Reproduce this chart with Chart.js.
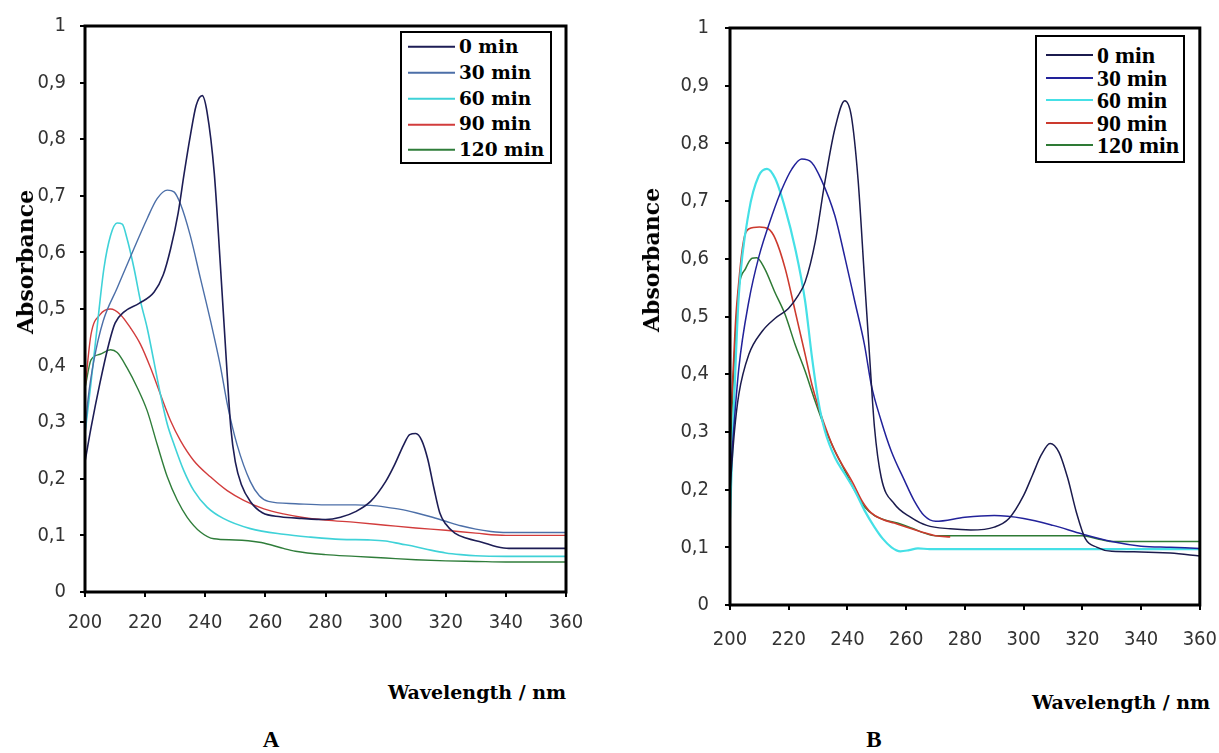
<!DOCTYPE html>
<html>
<head>
<meta charset="utf-8">
<script src="https://cdn.jsdelivr.net/npm/chart.js@4.4.1/dist/chart.umd.min.js"></script>
<style>
  html, body {
    margin: 0;
    padding: 0;
    background: #fff;
    width: 1219px;
    height: 753px;
    overflow: hidden;
    position: relative;
  }
  .panel { position: absolute; top: 0; height: 670px; }
  #panelA { left: 0; width: 610px; }
  #panelB { left: 610px; width: 625px; }
  .title {
    position: absolute;
    font-family: "DejaVu Serif", serif;
    font-weight: bold;
    color: #000;
    white-space: nowrap;
    transform: translate(-50%, -50%);
  }
  .ylab { font-size: 22px; transform: translate(-50%, -50%) rotate(-90deg); }
  .xlab { font-size: 19px; }
  .letter { font-family: "Liberation Serif", serif; font-size: 23px; }
  .legend {
    position: absolute;
    border: 2px solid #000;
    background: #fff;
    box-sizing: border-box;
    font-weight: bold;
    color: #000;
  }
  .legend .row { position: absolute; left: 0; display: flex; align-items: center; transform: translateY(-50%); }
  .legend .swatch { height: 0; border-top: 2px solid #000; }
  .legend .txt { white-space: nowrap; line-height: 1; }
</style>
</head>
<body>
<div class="panel" id="panelA"><canvas id="chartA"></canvas></div>
<div class="panel" id="panelB"><canvas id="chartB"></canvas></div>

<div class="title ylab" style="left:25px; top:262px;">Absorbance</div>
<div class="title ylab" style="left:651px; top:260px;">Absorbance</div>
<div class="title xlab" style="left:477px; top:692px;">Wavelength / nm</div>
<div class="title xlab" style="left:1121px; top:702px;">Wavelength / nm</div>
<div class="title letter" style="left:271px; top:740px;">A</div>
<div class="title letter" style="left:874px; top:740px;">B</div>

<div class="legend" id="legendA"></div>
<div class="legend" id="legendB"></div>

<script>
const seriesLabels = ["0 min", "30 min", "60 min", "90 min", "120 min"];
const xTicks = [200, 220, 240, 260, 280, 300, 320, 340, 360];
const yTicks = [0, 0.1, 0.2, 0.3, 0.4, 0.5, 0.6, 0.7, 0.8, 0.9, 1];
const yTickLabels = ["0", "0,1", "0,2", "0,3", "0,4", "0,5", "0,6", "0,7", "0,8", "0,9", "1"];

// Panel A
const a0Wl = [200, 202, 205, 208, 210, 213, 218, 223, 226, 228.5, 231, 233, 235, 237, 239, 240.6, 243, 245, 247, 248.5, 250, 252, 255, 259, 265, 272, 280, 285, 290, 295, 300, 303, 306, 308, 310, 312, 314, 316, 318, 320, 323, 327, 332, 337, 341, 350, 360];
const a0Abs = [0.23, 0.29, 0.37, 0.44, 0.475, 0.495, 0.51, 0.53, 0.56, 0.607, 0.67, 0.74, 0.805, 0.86, 0.877, 0.848, 0.74, 0.58, 0.41, 0.29, 0.23, 0.19, 0.16, 0.14, 0.133, 0.13, 0.128, 0.132, 0.142, 0.16, 0.195, 0.225, 0.26, 0.278, 0.28, 0.268, 0.235, 0.185, 0.14, 0.12, 0.104, 0.095, 0.088, 0.08, 0.077, 0.077, 0.077];

const a30Wl = [200, 201, 203, 206, 210.7, 216.3, 220.7, 224, 227.4, 229.6, 231.8, 235, 238.4, 241.8, 245, 247.3, 250.6, 255, 258, 261, 270, 280, 290, 295, 300, 305, 310, 315, 320, 325, 330, 335, 340, 350, 360];
const a30Abs = [0.28, 0.34, 0.41, 0.478, 0.537, 0.607, 0.66, 0.695, 0.71, 0.707, 0.685, 0.63, 0.554, 0.478, 0.4, 0.333, 0.26, 0.195, 0.17, 0.16, 0.156, 0.154, 0.154, 0.153, 0.15, 0.146, 0.14, 0.133, 0.125, 0.117, 0.111, 0.107, 0.105, 0.105, 0.105];

const a60Wl = [200, 202, 204, 206.3, 208.5, 210.7, 212.4, 214, 216.3, 218.5, 220.7, 222.9, 225.1, 227.4, 229.6, 232.9, 236.2, 240.6, 246, 255, 266, 275, 285, 295, 300, 305, 310, 315, 320, 325, 330, 340, 350, 360];
const a60Abs = [0.28, 0.37, 0.466, 0.572, 0.63, 0.652, 0.65, 0.624, 0.572, 0.513, 0.466, 0.408, 0.349, 0.296, 0.261, 0.214, 0.179, 0.15, 0.13, 0.112, 0.102, 0.097, 0.093, 0.092, 0.09, 0.085, 0.08, 0.074, 0.069, 0.066, 0.064, 0.063, 0.063, 0.063];

const a90Wl = [200, 202, 205, 208.5, 211.8, 215.2, 218.5, 221.8, 225.1, 228.5, 231.8, 236.2, 241.8, 247.3, 252.8, 259.5, 266, 272, 280, 290, 300, 310, 320, 330, 340, 350, 360];
const a90Abs = [0.36, 0.455, 0.49, 0.5, 0.49, 0.466, 0.437, 0.396, 0.349, 0.302, 0.267, 0.232, 0.203, 0.179, 0.162, 0.147, 0.138, 0.132, 0.127, 0.123, 0.118, 0.113, 0.109, 0.104, 0.1, 0.1, 0.1];

const a120Wl = [200, 202, 205, 208.5, 210.7, 214, 217.4, 220.7, 224, 227.4, 230.7, 234, 238.4, 242.9, 250, 258, 262, 266, 270, 280, 290, 300, 310, 320, 330, 340, 360];
const a120Abs = [0.36, 0.41, 0.42, 0.428, 0.423, 0.396, 0.361, 0.32, 0.261, 0.203, 0.162, 0.132, 0.106, 0.094, 0.092, 0.088, 0.083, 0.077, 0.072, 0.066, 0.063, 0.06, 0.057, 0.055, 0.054, 0.053, 0.053];

// Panel B
const b0Wl = [200, 201.5, 203, 206.4, 210.9, 215.4, 219.9, 223.3, 225.6, 229, 232.3, 235.7, 239.1, 241.3, 243.6, 245.8, 247.5, 249.2, 251.5, 256, 261.6, 267, 275, 282, 290, 295, 300, 303, 306, 309, 312, 315, 318, 321, 325, 330, 340, 350, 360];
const b0Abs = [0.2, 0.3, 0.365, 0.434, 0.474, 0.497, 0.514, 0.537, 0.56, 0.629, 0.733, 0.825, 0.874, 0.848, 0.738, 0.566, 0.434, 0.308, 0.221, 0.175, 0.152, 0.138, 0.132, 0.13, 0.135, 0.15, 0.19, 0.225, 0.26, 0.28, 0.265, 0.22, 0.16, 0.115, 0.1, 0.093, 0.092, 0.09, 0.085];

const b30Wl = [200, 203, 206.4, 209.8, 214.3, 217.7, 221.1, 224.4, 227.8, 231.2, 235.7, 239.1, 242.5, 245.8, 248.1, 251.5, 254.9, 259.4, 262.7, 266.1, 270, 280, 290, 300, 310, 320, 330, 340, 350, 360];
const b30Abs = [0.22, 0.41, 0.526, 0.603, 0.675, 0.721, 0.756, 0.773, 0.767, 0.736, 0.675, 0.603, 0.526, 0.451, 0.382, 0.319, 0.267, 0.216, 0.181, 0.155, 0.145, 0.152, 0.155, 0.15, 0.138, 0.123, 0.11, 0.102, 0.1, 0.098];

const b60Wl = [200, 201, 202, 203, 206.4, 209.8, 212.6, 215.4, 218.8, 222.2, 225.6, 227.8, 230.1, 232.3, 235.7, 239.1, 242.5, 245.8, 249.2, 252, 255, 258, 261, 264, 268, 275, 290, 320, 360];
const b60Abs = [0.15, 0.3, 0.43, 0.537, 0.681, 0.744, 0.756, 0.739, 0.687, 0.618, 0.526, 0.434, 0.353, 0.302, 0.256, 0.227, 0.198, 0.164, 0.135, 0.115, 0.1, 0.093, 0.095, 0.098, 0.097, 0.097, 0.097, 0.097, 0.097];

const b90Wl = [200, 201, 202, 203, 204, 205, 206.5, 210, 213, 215.4, 218.8, 222.2, 225.6, 228, 230, 232, 235, 238, 240, 242, 245, 248, 252, 256, 260, 265, 270, 275];
const b90Abs = [0.3, 0.4, 0.5, 0.56, 0.61, 0.64, 0.652, 0.655, 0.652, 0.635, 0.583, 0.509, 0.434, 0.38, 0.345, 0.315, 0.275, 0.245, 0.228, 0.21, 0.18, 0.16, 0.148, 0.142, 0.135, 0.127, 0.12, 0.118];

const b120Wl = [200, 201, 202, 203, 205.3, 207.5, 209.1, 211.8, 215.2, 218.8, 222.2, 225.6, 229, 232.3, 235.7, 239.1, 242.5, 245.8, 249.2, 253, 257, 262, 266, 270, 280, 300, 320, 325, 330, 360];
const b120Abs = [0.25, 0.38, 0.48, 0.549, 0.583, 0.601, 0.602, 0.583, 0.543, 0.503, 0.451, 0.405, 0.353, 0.307, 0.267, 0.233, 0.198, 0.17, 0.155, 0.147, 0.142, 0.133, 0.125, 0.12, 0.12, 0.12, 0.12, 0.115, 0.11, 0.11];

const colorsA = ["#1d1d55", "#4c6fa8", "#3fd2d8", "#d23c3c", "#2f7d3a"];
const colorsB = ["#1b1b4d", "#22229a", "#45e0e6", "#cc3a2e", "#2e7a35"];

function toPoints(wl, abs) {
  return wl.map((x, i) => ({ x, y: abs[i] }));
}

function buildDatasets(pairs, colors, widths) {
  return pairs.map((pair, i) => ({
    label: seriesLabels[i],
    data: toPoints(pair[0], pair[1]),
    borderColor: colors[i],
    backgroundColor: colors[i],
    borderWidth: widths[i],
    pointRadius: 0,
    fill: false,
    cubicInterpolationMode: "monotone",
  }));
}

const framePlugin = {
  id: "frame",
  afterDatasetsDraw(chart) {
    const { ctx, chartArea } = chart;
    ctx.save();
    ctx.strokeStyle = "#000";
    ctx.lineWidth = 3;
    ctx.strokeRect(chartArea.left, chartArea.top, chartArea.right - chartArea.left, chartArea.bottom - chartArea.top);
    ctx.restore();
  },
};

function makeChart(canvas, datasets, box) {
  const tickFont = { family: "'DejaVu Sans Condensed', 'Liberation Sans', sans-serif", size: 20 };
  return new Chart(canvas, {
    type: "line",
    data: { datasets },
    options: {
      responsive: true,
      maintainAspectRatio: false,
      animation: false,
      layout: {
        padding: { left: 0, top: box.top, right: box.width - box.right, bottom: 0 },
      },
      plugins: {
        legend: { display: false },
        tooltip: { enabled: false },
      },
      scales: {
        x: {
          type: "linear",
          min: 200,
          max: 360,
          afterFit: (scale) => { scale.height = box.height - box.bottom; },
          afterBuildTicks: (scale) => { scale.ticks = xTicks.map((v) => ({ value: v })); },
          border: { display: false },
          grid: { drawOnChartArea: false, drawTicks: true, tickLength: 5, color: "#000", lineWidth: 2 },
          ticks: {
            color: "#333",
            font: tickFont,
            padding: box.xPad,
            maxRotation: 0,
            autoSkip: false,
            callback: (v) => String(v),
          },
        },
        y: {
          min: 0,
          max: 1,
          afterFit: (scale) => { scale.width = box.left; },
          afterBuildTicks: (scale) => { scale.ticks = yTicks.map((v) => ({ value: v })); },
          border: { display: false },
          grid: { drawOnChartArea: false, drawTicks: true, tickLength: 5, color: "#000", lineWidth: 2 },
          ticks: {
            color: "#333",
            font: tickFont,
            padding: box.yPad,
            autoSkip: false,
            callback: (v, i) => yTickLabels[i],
          },
        },
      },
    },
    plugins: [framePlugin],
  });
}

function buildLegend(el, colors, box) {
  el.style.left = box.left + "px";
  el.style.top = box.top + "px";
  el.style.width = box.width + "px";
  el.style.height = box.height + "px";
  el.style.fontFamily = box.font;
  el.style.fontSize = box.fontSize + "px";
  seriesLabels.forEach((label, i) => {
    const row = document.createElement("div");
    row.className = "row";
    row.style.top = (box.firstRow + i * box.rowGap) + "px";
    row.style.left = box.lineLeft + "px";
    const swatch = document.createElement("span");
    swatch.className = "swatch";
    swatch.style.width = box.lineWidth + "px";
    swatch.style.borderTopColor = colors[i];
    swatch.style.marginRight = box.gap + "px";
    const txt = document.createElement("span");
    txt.className = "txt";
    txt.textContent = label;
    row.appendChild(swatch);
    row.appendChild(txt);
    el.appendChild(row);
  });
}

const datasetsA = buildDatasets(
  [[a0Wl, a0Abs], [a30Wl, a30Abs], [a60Wl, a60Abs], [a90Wl, a90Abs], [a120Wl, a120Abs]],
  colorsA,
  [1.6, 1.4, 1.6, 1.4, 1.4],
);
const datasetsB = buildDatasets(
  [[b0Wl, b0Abs], [b30Wl, b30Abs], [b60Wl, b60Abs], [b90Wl, b90Abs], [b120Wl, b120Abs]],
  colorsB,
  [1.5, 1.5, 2.2, 1.6, 1.5],
);

makeChart(document.getElementById("chartA"), datasetsA,
  { width: 610, height: 670, left: 85, right: 566, top: 23, bottom: 592, xPad: 14, yPad: 14 });
makeChart(document.getElementById("chartB"), datasetsB,
  { width: 625, height: 670, left: 120, right: 593, top: 25, bottom: 605, xPad: 18, yPad: 16 });

buildLegend(document.getElementById("legendA"), colorsA,
  { left: 400, top: 31, width: 152, height: 133, firstRow: 14, rowGap: 25.8, lineLeft: 6, lineWidth: 47, gap: 4,
    font: "'DejaVu Serif', serif", fontSize: 18.5 });
buildLegend(document.getElementById("legendB"), colorsB,
  { left: 1035, top: 35, width: 150, height: 128, firstRow: 18, rowGap: 22.5, lineLeft: 9, lineWidth: 47, gap: 4,
    font: "'Liberation Serif', serif", fontSize: 24 });
</script>
</body>
</html>
